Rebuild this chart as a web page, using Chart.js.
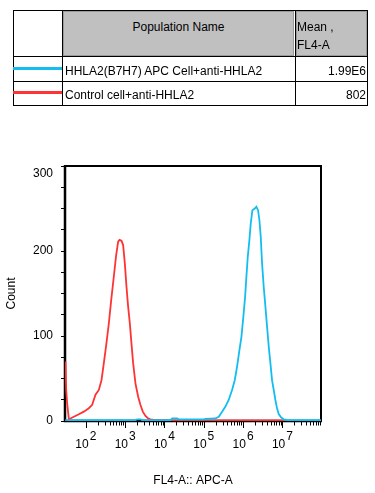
<!DOCTYPE html>
<html><head><meta charset="utf-8">
<script src="https://cdn.jsdelivr.net/npm/chart.js@4.4.1/dist/chart.umd.min.js"></script>
<style>
html,body{margin:0;padding:0;background:#fff;}
body{width:375px;height:493px;position:relative;overflow:hidden;font-family:"Liberation Sans",Arial,sans-serif;font-size:12px;color:#000;}
#chart{position:absolute;left:0;top:0;}
.ln{position:absolute;background:#000;}
.hd{position:absolute;background:#c0c0c0;border:1px solid #9a9a9a;box-sizing:border-box;}
.t{position:absolute;white-space:nowrap;line-height:14px;}
</style></head>
<body>
<canvas id="chart" width="375" height="493"></canvas>
<div id="table"></div>
<script>
// ---------- data ----------
const populations = ['HHLA2(B7H7) APC Cell+anti-HHLA2', 'Control cell+anti-HHLA2'];
const populationMeans = ['1.99E6', '802'];
const tableHeaders = ['Population Name', 'Mean ,', 'FL4-A'];
const seriesColors = ['#14bdf0', '#ff3333'];

const blueX = [29.9, 1832, 2018, 2455, 2704, 14220, 15670, 20990, 23120, 100000, 110200, 198200, 240400, 292400, 355600, 432500, 524800, 613800, 703100, 807200, 907800, 1019000, 1125000, 1216000, 1315000, 1449000, 1567000, 1726000, 1982000, 2183000, 2404000, 2600000, 2812000, 3041000, 3350000, 3698000, 4074000, 4498000, 4955000, 5458000, 6026000, 6637000, 7311000, 8072000, 9247000, 10810000, 13150000, 96000000];
const blueCount = [1, 1, 2, 2, 1, 1, 3, 3, 2, 2, 2.5, 3, 5, 11, 17, 25, 36.5, 48, 64, 83.5, 99, 123, 146, 170, 193, 213, 232.5, 248, 250, 252, 248, 236.5, 217, 185.5, 158, 134.5, 111, 87.5, 68, 48, 36.5, 24.7, 14.9, 8.2, 4.3, 2, 1.2, 1];

const redX = [30.4, 31.6, 33.5, 37.0, 40.7, 49.5, 66.4, 88.9, 119, 145, 176, 214, 250, 287, 329, 385, 441, 515, 590, 664, 718, 807, 889, 982, 1081, 1191, 1315, 1449, 1596, 1832, 2143, 2455, 2812, 3289, 3846, 4406, 5358, 15670, 9800000, 11000000, 96000000];
const redCount = [70, 36.5, 20.8, 2, 3, 5, 8, 11, 15, 19, 31, 36.5, 48, 68, 89, 115, 142, 170, 195, 211, 213, 212, 207, 185.5, 158, 134.5, 115, 91, 68, 44, 28.6, 18.8, 11, 6, 3, 2, 1.2, 0.7, 0.7, 0, 0];

const xMin = 29.5, xMax = 9.6e7;
const xDecades = [2, 3, 4, 5, 6, 7];
const yMax = 300, yMinorStep = 25, yMajorStep = 100;
const xTitle = 'FL4-A:: APC-A';
const yTitle = 'Count';

// ---------- table ----------
const FONT = '"Liberation Sans", Arial, sans-serif';
(function buildTable(){
  const tb = document.getElementById('table');
  const add = (cls, css, txt) => { const d = document.createElement('div'); d.className = cls; d.style.cssText = css; if (txt !== undefined) d.textContent = txt; tb.appendChild(d); return d; };
  add('hd', 'left:63px;top:11px;width:231px;height:45px;');
  add('hd', 'left:296px;top:11px;width:71px;height:45px;');
  [10, 56, 81, 105].forEach(y => add('ln', `left:13px;top:${y}px;width:355px;height:1px;`));
  [13, 62, 295, 367].forEach(x => add('ln', `left:${x}px;top:10px;width:1px;height:96px;`));
  add('ln', `left:13px;top:67px;width:49px;height:3px;background:${seriesColors[0]};`);
  add('ln', `left:13px;top:91px;width:49px;height:3px;background:${seriesColors[1]};`);
  add('t', 'left:63px;top:20px;width:231px;text-align:center;', tableHeaders[0]);
  add('t', 'left:297px;top:20px;', tableHeaders[1]);
  add('t', 'left:297px;top:38px;', tableHeaders[2]);
  add('t', 'left:65px;top:64px;', populations[0]);
  add('t', 'left:65px;top:88px;', populations[1]);
  add('t', 'right:9px;top:64px;text-align:right;', populationMeans[0]);
  add('t', 'right:9px;top:88px;text-align:right;', populationMeans[1]);
})();

// ---------- chart ----------
const toPoints = (xs, ys) => xs.map((x, i) => ({x: x, y: ys[i]}));

const framePlugin = {
  id: 'frame',
  beforeDatasetsDraw(chart) {
    const {ctx, chartArea: a} = chart;
    ctx.save();
    ctx.strokeStyle = '#000';
    ctx.lineWidth = 2;
    ctx.beginPath();
    ctx.moveTo(a.left, a.top); ctx.lineTo(a.right, a.top); ctx.lineTo(a.right, a.bottom);
    ctx.stroke();
    ctx.lineWidth = 2.5;
    ctx.beginPath();
    ctx.moveTo(a.left, a.top - 1); ctx.lineTo(a.left, a.bottom); ctx.lineTo(a.right + 1, a.bottom);
    ctx.stroke();
    ctx.restore();
  }
};

const xAxisPlugin = {
  id: 'xAxisLog',
  afterDraw(chart) {
    const {ctx, chartArea: a} = chart;
    const xs = chart.scales.x;
    ctx.save();
    ctx.strokeStyle = '#000';
    ctx.lineWidth = 1;
    const y0 = a.bottom + 1;
    xDecades.forEach(n => {
      for (let k = 1; k <= 9; k++) {
        const v = k * Math.pow(10, n);
        if (v < xMin || v > xMax) continue;
        const px = Math.round(xs.getPixelForValue(v)) + 0.5;
        ctx.beginPath();
        ctx.moveTo(px, y0);
        ctx.lineTo(px, y0 + (k === 1 ? 6 : 3.5));
        ctx.stroke();
      }
    });
    ctx.fillStyle = '#000';
    ctx.font = '12px ' + FONT;
    ctx.textBaseline = 'alphabetic';
    ctx.textAlign = 'left';
    xDecades.forEach(n => {
      const px = xs.getPixelForValue(Math.pow(10, n));
      const base = '10', sup = String(n);
      const w1 = ctx.measureText(base).width, w2 = ctx.measureText(sup).width;
      const start = px - (w1 + w2 + 1) / 2;
      ctx.fillText(base, start, 448);
      ctx.fillText(sup, start + w1 + 1, 440);
    });
    ctx.restore();
  }
};

new Chart(document.getElementById('chart'), {
  type: 'line',
  data: {
    datasets: [
      {label: populations[0], data: toPoints(blueX, blueCount), borderColor: seriesColors[0], borderWidth: 1.8, pointRadius: 0, tension: 0, fill: false},
      {label: populations[1], data: toPoints(redX, redCount), borderColor: seriesColors[1], borderWidth: 1.8, pointRadius: 0, tension: 0, fill: false}
    ]
  },
  options: {
    responsive: false,
    animation: false,
    devicePixelRatio: 1,
    layout: {padding: {top: 166, right: 54, left: 0, bottom: 0}},
    plugins: {legend: {display: false}, tooltip: {enabled: false}},
    scales: {
      x: {
        type: 'logarithmic', min: xMin, max: xMax,
        ticks: {display: false},
        grid: {display: false},
        border: {display: false},
        title: {display: true, text: xTitle, color: '#000', font: {family: FONT, size: 12}, padding: {top: 4, bottom: 5}},
        afterFit(s) { s.height = 72; }
      },
      y: {
        min: 0, max: yMax,
        ticks: {
          stepSize: yMinorStep, autoSkip: false, color: '#000', padding: 8,
          font: {family: FONT, size: 12},
          callback(v) {
            if (v % yMajorStep !== 0) return '';
            return v === yMax ? ['', String(v)] : String(v);
          }
        },
        grid: {drawOnChartArea: false, drawTicks: true, tickLength: 4, color: '#000', lineWidth: 1},
        border: {display: false},
        title: {display: true, text: yTitle, color: '#000', font: {family: FONT, size: 12}, padding: {top: 4, bottom: 4}},
        afterFit(s) { s.width = 65; }
      }
    }
  },
  plugins: [framePlugin, xAxisPlugin]
});
</script>
</body></html>
